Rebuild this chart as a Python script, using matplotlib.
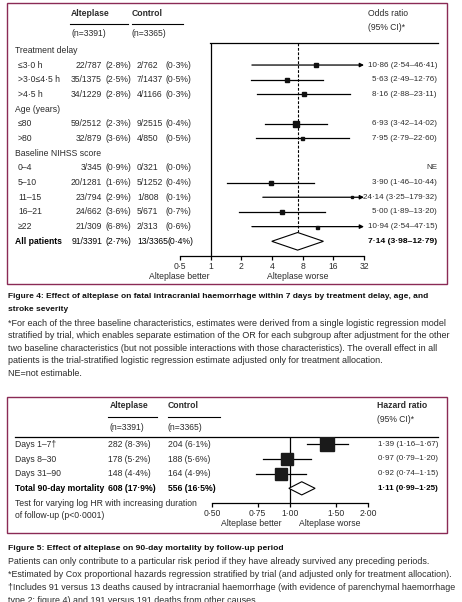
import numpy as np
import matplotlib
matplotlib.use("Agg")
import matplotlib.pyplot as plt
from matplotlib import font_manager
from matplotlib.transforms import blended_transform_factory

# ---- Figure 4 data -------------------------------------------------------
fig4_rows = ["Treatment delay", "≤3·0 h", ">3·0≤4·5 h", ">4·5 h",
             "Age (years)", "≤80", ">80",
             "Baseline NIHSS score", "0–4", "5–10", "11–15", "16–21", "≥22",
             "All patients"]
fig4_headers = [0, 4, 7]
alt4_n = ["22/787", "35/1375", "34/1229", "59/2512", "32/879",
          "3/345", "20/1281", "23/794", "24/662", "21/309", "91/3391"]
alt4_pct = ["(2·8%)", "(2·5%)", "(2·8%)", "(2·3%)", "(3·6%)",
            "(0·9%)", "(1·6%)", "(2·9%)", "(3·6%)", "(6·8%)", "(2·7%)"]
ctl4_n = ["2/762", "7/1437", "4/1166", "9/2515", "4/850",
          "0/321", "5/1252", "1/808", "5/671", "2/313", "13/3365"]
ctl4_pct = ["(0·3%)", "(0·5%)", "(0·3%)", "(0·4%)", "(0·5%)",
            "(0·0%)", "(0·4%)", "(0·1%)", "(0·7%)", "(0·6%)", "(0·4%)"]
or_est = [10.86, 5.63, 8.16, 6.93, 7.95, np.nan, 3.90, 24.14, 5.00, 10.94, 7.14]
or_lo = [2.54, 2.49, 2.88, 3.42, 2.79, np.nan, 1.46, 3.25, 1.89, 2.54, 3.98]
or_hi = [46.41, 12.76, 23.11, 14.02, 22.60, np.nan, 10.44, 179.32, 13.20, 47.15, 12.79]
or_box = [3.5, 4.0, 4.0, 5.5, 3.0, 0, 3.5, 2.5, 3.5, 3.0, 0]
or_ticks = [0.5, 1, 2, 4, 8, 16, 32]
or_ticklabels = ["0·5", "1", "2", "4", "8", "16", "32"]

# ---- Figure 5 data -------------------------------------------------------
periods = ["Days 1–7†", "Days 8–30", "Days 31–90", "Total 90-day mortality"]
alt5 = ["282 (8·3%)", "178 (5·2%)", "148 (4·4%)", "608 (17·9%)"]
ctl5 = ["204 (6·1%)", "188 (5·6%)", "164 (4·9%)", "556 (16·5%)"]
hr_est = [1.39, 0.97, 0.92, 1.11]
hr_lo = [1.16, 0.79, 0.74, 0.99]
hr_hi = [1.67, 1.20, 1.15, 1.25]
hr_box = [14, 12, 12, 0]
hr_ticks = [0.5, 0.75, 1.0, 1.5, 2.0]
hr_ticklabels = ["0·50", "0·75", "1·00", "1·50", "2·00"]

fig4_caption = ["Figure 4: Effect of alteplase on fatal intracranial haemorrhage within 7 days by treatment delay, age, and",
                "stroke severity"]
fig4_notes = ["*For each of the three baseline characteristics, estimates were derived from a single logistic regression model",
              "stratified by trial, which enables separate estimation of the OR for each subgroup after adjustment for the other",
              "two baseline characteristics (but not possible interactions with those characteristics). The overall effect in all",
              "patients is the trial-stratified logistic regression estimate adjusted only for treatment allocation.",
              "NE=not estimable."]
fig5_caption = "Figure 5: Effect of alteplase on 90-day mortality by follow-up period"
fig5_notes = ["Patients can only contribute to a particular risk period if they have already survived any preceding periods.",
              "*Estimated by Cox proportional hazards regression stratified by trial (and adjusted only for treatment allocation).",
              "†Includes 91 versus 13 deaths caused by intracranial haemorrhage (with evidence of parenchymal haemorrhage",
              "type 2; figure 4) and 191 versus 191 deaths from other causes."]

available = {f.name for f in font_manager.fontManager.ttflist}
main_font = "Liberation Sans Narrow" if "Liberation Sans Narrow" in available else "Liberation Sans"
plt.rcParams["font.family"] = [main_font, "DejaVu Sans"]

TXT = "#2b2b2b"
BORDER = "#8a2a55"
FS = 6.2      # table text
FS_R = 5.8    # estimate column
W, H = 462, 602


def fmt(v):
    return f"{v:.2f}".replace(".", "·")


fig = plt.figure(figsize=(W / 100, H / 100), dpi=100)
base = fig.add_axes([0, 0, 1, 1])
base.set_xlim(0, W)
base.set_ylim(H, 0)
base.axis("off")


def fit_lines(texts, ref_index, width):
    """Scale a block of text lines so that one of them spans `width` pixels."""
    renderer = fig.canvas.get_renderer()
    size = texts[ref_index].get_fontsize()
    for _ in range(3):
        w = texts[ref_index].get_window_extent(renderer).width
        size *= width / w
        for t in texts:
            t.set_fontsize(size)


def forest_axes(x0, x1, y0, y1):
    ax = fig.add_axes([x0 / W, 1 - y1 / H, (x1 - x0) / W, (y1 - y0) / H])
    ax.patch.set_alpha(0)
    for side in ("top", "right", "left"):
        ax.spines[side].set_visible(False)
    ax.spines["bottom"].set_linewidth(0.9)
    ax.set_yticks([])
    ax.set_xscale("log", base=2)
    ax.tick_params(axis="x", direction="out", length=3, width=0.9, pad=1,
                   labelsize=FS, labelcolor=TXT)
    ax.minorticks_off()
    return ax


# ---- Figure 4 ------------------------------------------------------------
base.add_patch(plt.Rectangle((7, 3), 440, 281, fill=False, ec=BORDER, lw=1.0))
f4 = forest_axes(180, 364, 43, 256)
f4.set_xlim(0.5, 32)
f4.set_ylim(len(fig4_rows), -0.5)
f4.set_xticks(or_ticks)
f4.set_xticklabels(or_ticklabels)
f4.axvline(1, color="k", lw=0.9)
t4 = blended_transform_factory(base.transData, f4.transData)

base.text(71, 14, "Alteplase", fontsize=FS, color=TXT, weight="bold", va="center")
base.text(132, 14, "Control", fontsize=FS, color=TXT, weight="bold", va="center")
base.plot([70, 128], [24, 24], color="k", lw=0.8)
base.plot([132, 183], [24, 24], color="k", lw=0.8)
base.text(71, 34, "(n=3391)", fontsize=FS, color=TXT, va="center")
base.text(132, 34, "(n=3365)", fontsize=FS, color=TXT, va="center")
base.text(368, 14, "Odds ratio", fontsize=FS, color=TXT, va="center")
base.text(368, 28, "(95% CI)*", fontsize=FS, color=TXT, va="center")
base.plot([210, 438], [43, 43], color="k", lw=0.9)

k = 0
for i, label in enumerate(fig4_rows):
    if i in fig4_headers:
        base.text(15, i, label, fontsize=FS, color=TXT, va="center", transform=t4)
        continue
    last = label == "All patients"
    wt = "bold" if last else "normal"
    col = "#000000" if last else TXT
    base.text(15 if last else 18, i, label, fontsize=FS, color=col, va="center",
              weight=wt, transform=t4)
    base.text(102, i, alt4_n[k], fontsize=FS, color=col, va="center",
              ha="right", transform=t4)
    base.text(105, i, alt4_pct[k], fontsize=FS, color=col, va="center", transform=t4)
    base.text(137, i, ctl4_n[k], fontsize=FS, color=col, va="center", transform=t4)
    base.text(167 if last else 165, i, ctl4_pct[k], fontsize=FS, color=col, va="center",
              transform=t4)
    if np.isnan(or_est[k]):
        right = "NE"
    else:
        right = f"{fmt(or_est[k])} ({fmt(or_lo[k])}–{fmt(or_hi[k])})"
    base.text(437, i, right, fontsize=FS_R + (0.3 if last else 0), color=col, va="center",
              ha="right", weight=wt, transform=t4)
    if not np.isnan(or_est[k]):
        if last:
            f4.fill([or_lo[k], or_est[k], or_hi[k], or_est[k]],
                    [i, i - 0.6, i, i + 0.6], fc="white", ec="k", lw=0.8, zorder=3)
            f4.plot([or_est[k], or_est[k]], [-0.5, i - 0.6], color="k", lw=0.8,
                    ls=(0, (2.5, 1.5)), zorder=1)
        else:
            if or_hi[k] > 32:
                f4.annotate("", xy=(32, i), xytext=(or_lo[k], i),
                            arrowprops=dict(arrowstyle="-|>", color="k", lw=0.9,
                                            mutation_scale=6, shrinkA=0, shrinkB=0))
            else:
                f4.plot([or_lo[k], or_hi[k]], [i, i], color="k", lw=0.9)
            f4.plot(or_est[k], i, marker="s", ms=or_box[k] * 0.72, color="#111111",
                    mec="#111111", zorder=4)
    k += 1

base.text(179, 276.5, "Alteplase better", fontsize=FS, color=TXT, ha="center", va="center")
base.text(298, 276.5, "Alteplase worse", fontsize=FS, color=TXT, ha="center", va="center")

cap4 = [base.text(8, 297 + 12.5 * j, line, fontsize=6, color="#111111", weight="bold",
                  va="center") for j, line in enumerate(fig4_caption)]
fit_lines(cap4, 0, 414)
notes4 = [base.text(8, 323 + 12.6 * j, line, fontsize=6, color=TXT, va="center")
          for j, line in enumerate(fig4_notes)]
fit_lines(notes4, 1, 446)

# ---- Figure 5 ------------------------------------------------------------
base.add_patch(plt.Rectangle((7, 397), 440, 136, fill=False, ec=BORDER, lw=1.0))
f5 = forest_axes(212, 368, 437, 503)
f5.set_xlim(0.5, 2.0)
f5.set_ylim(len(periods), -0.5)
f5.set_xticks(hr_ticks)
f5.set_xticklabels(hr_ticklabels)
f5.axvline(1, color="k", lw=0.9)
t5 = blended_transform_factory(base.transData, f5.transData)

base.text(110, 406, "Alteplase", fontsize=FS, color=TXT, weight="bold", va="center")
base.text(168, 406, "Control", fontsize=FS, color=TXT, weight="bold", va="center")
base.plot([108, 157], [417, 417], color="k", lw=0.8)
base.plot([168, 220], [417, 417], color="k", lw=0.8)
base.text(110, 427, "(n=3391)", fontsize=FS, color=TXT, va="center")
base.text(168, 427, "(n=3365)", fontsize=FS, color=TXT, va="center")
base.text(377, 406, "Hazard ratio", fontsize=FS, color=TXT, weight="bold", va="center")
base.text(377, 420, "(95% CI)*", fontsize=FS, color=TXT, va="center")
base.plot([15, 438], [437, 437], color="k", lw=0.9)

for i, label in enumerate(periods):
    last = i == len(periods) - 1
    wt = "bold" if last else "normal"
    col = "#000000" if last else TXT
    base.text(15, i, label, fontsize=FS, color=col, va="center", weight=wt, transform=t5)
    base.text(108, i, alt5[i], fontsize=FS, color=col, va="center", weight=wt, transform=t5)
    base.text(168, i, ctl5[i], fontsize=FS, color=col, va="center", weight=wt, transform=t5)
    base.text(438, i, f"{fmt(hr_est[i])} ({fmt(hr_lo[i])}–{fmt(hr_hi[i])})", fontsize=FS_R,
              color=col, va="center", ha="right", weight=wt, transform=t5)
    if last:
        f5.fill([hr_lo[i], hr_est[i], hr_hi[i], hr_est[i]],
                [i, i - 0.45, i, i + 0.45], fc="white", ec="k", lw=0.8, zorder=3)
    else:
        f5.plot([hr_lo[i], hr_hi[i]], [i, i], color="k", lw=0.9)
        f5.plot(hr_est[i], i, marker="s", ms=hr_box[i] * 0.72, color="#1a1a1a", zorder=4)

base.text(15, 504, "Test for varying log HR with increasing duration", fontsize=FS, color=TXT, va="center")
base.text(15, 515, "of follow-up (p<0·0001)", fontsize=FS, color=TXT, va="center")
base.text(251, 524, "Alteplase better", fontsize=FS, color=TXT, ha="center", va="center")
base.text(330, 524, "Alteplase worse", fontsize=FS, color=TXT, ha="center", va="center")

cap5 = [base.text(8, 548, fig5_caption, fontsize=6, color="#111111", weight="bold", va="center")]
fit_lines(cap5, 0, 274)
notes5 = [base.text(8, 562 + 12.8 * j, line, fontsize=6, color=TXT, va="center")
          for j, line in enumerate(fig5_notes)]
fit_lines(notes5, 1, 442)

fig.savefig("out.png", dpi=100)
